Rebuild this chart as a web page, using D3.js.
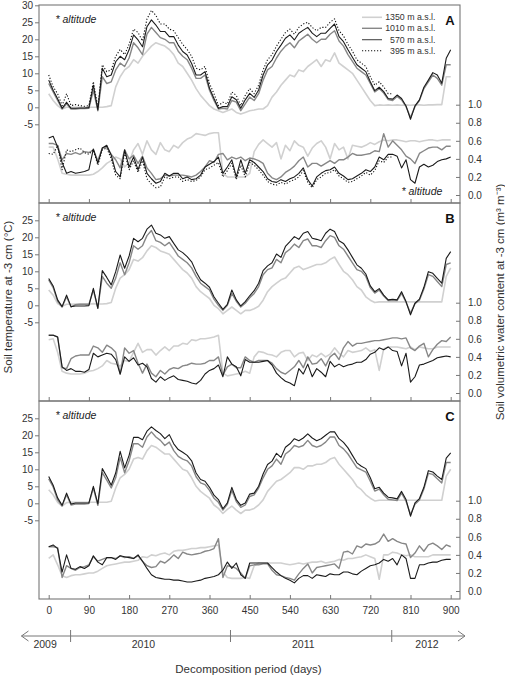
<!DOCTYPE html>
<html><head><meta charset="utf-8">
<script src="https://cdn.jsdelivr.net/npm/d3@7"></script>
<style>body{margin:0;background:#fff}svg{display:block}text{font-family:Arial,"Liberation Sans",sans-serif}</style>
</head><body><svg id="c" width="505" height="681"></svg>
<script>
// ---- DATA ----
const days = d3.range(0, 901, 10);            // sampling grid (decomposition day)
const altitudes = ["1350 m a.s.l.", "1010 m a.s.l.", "570 m a.s.l.", "395 m a.s.l."];
const xTicks = [0, 90, 180, 270, 360, 450, 540, 630, 720, 810, 900];
const tempTicksA = [-5, 0, 5, 10, 15, 20, 25, 30];
const tempTicksBC = [-5, 0, 5, 10, 15, 20, 25];
const waterTicks = [0, 0.2, 0.4, 0.6, 0.8, 1.0];
const years = ["2009", "2010", "2011", "2012"];
const yearLabelDays = [-8, 212, 570, 847];
const yearBreakDays = [49, 407, 768];
const timelineEnds = [-61, 932];
const panelLetters = ["A", "B", "C"];

// Panel A – soil temperature (°C)
const tempA1350 = [4,2,0.5,-0.5,0,0,0,0,0,0,
 0,0,0,0.2,0.5,6,9,11,12,14,
 13,15,16.5,18,19,18.5,18,17,15.5,13,
 12,10,8,5.5,3.5,2,0.5,-0.5,-1,-1.5,
 -1,-0.5,-1.5,-2,-1.5,-1,-0.8,-0.5,-0.5,0.5,
 3,4.5,6.5,8,9.5,9,11,10.5,12,13,
 14,12,14,13.5,16,13,12,11,10,8,
 6,4,2,0.5,0.7,0.6,0.7,0.6,0.7,0.6,
 0.7,0.6,0.7,0.7,0.6,0.7,0.7,0.8,0.8,9,
 9];
const tempA1010 = [7,4.5,2,-0.5,1,-0.5,-0.5,-0.4,-0.4,-0.3,
 5,-1,9,7,7.5,11,13,12,14.5,19,
 17.5,15.5,21.5,23.5,22,20.5,20,19,19,16.5,
 15,14,11.5,8.5,8.5,9.5,5,2,-0.5,-0.3,
 -0.5,2,1.5,-1,1,3,2,4,8,11,
 12,14.5,16.5,18,19,17.5,19.5,20.5,21.5,20,
 19,20,20,21.5,22.5,19.5,18,15.5,13.5,11.5,
 10.5,9.5,7,4.5,5.5,4.2,2.3,2,3.2,2.2,
 0.2,-3,0.2,2,5.5,7.5,9.5,8.5,6.5,12.5,
 12.5];
const tempA570 = [8,5,2.5,-0.3,1.5,-0.3,-0.3,-0.2,-0.2,-0.1,
 6.5,-0.8,11.5,9,9.5,13.4,15,14,16.9,21.3,
 19.8,17.8,23.7,25.7,24.2,22.3,22.3,20.8,20.8,18.3,
 16.4,15.4,12.9,9.5,9.5,10.5,5.6,2.6,-0.3,0.2,
 0.2,3.1,2.2,-0.3,2.2,4.1,2.9,5.1,9.5,12.5,
 13.9,16.4,18.3,20.3,21.3,19.8,21.8,22.7,23.5,21.8,
 20.8,21.8,21.8,23.2,24.5,20.8,19.3,16.9,14.7,12.5,
 11.5,10.5,7.5,4.9,5.9,4.6,2.6,2.4,3.6,2.6,
 0.4,-3.5,0.4,2.2,5.9,8,10.2,9.5,7.1,14.4,
 16.9];
const tempA395 = [9.5,6,4,0.5,4,0.5,0.8,0.5,0.3,0.5,
 7.5,0,12.5,10.5,11,15,17,15.5,18.5,23,
 22,19.5,26,28.5,27,24.5,24.5,23,22.5,20.5,
 18.5,17,15,11.5,11,12,7,4,0.5,1.5,
 1,4.5,3.5,0.5,3.5,5.5,4,6.5,11,14,
 15.5,18,20,22,23,21.5,23.5,24.5,25,23.5,
 22.5,23.5,23.5,25,26,22.5,21,18.5,16.5,14,
 13,12,9,6.5,7.5,6,4,4];

// Panel A – soil volumetric water content (m3 m-3)
const waterA1350 = [0.53,0.53,0.40,0.24,0.23,0.22,0.22,0.22,0.22,0.22,
 0.23,0.26,0.30,0.35,0.38,0.42,0.40,0.31,0.36,0.50,
 0.57,0.45,0.60,0.50,0.45,0.58,0.50,0.48,0.55,0.52,
 0.58,0.62,0.64,0.68,0.67,0.66,0.68,0.69,0.69,0.24,
 0.20,0.20,0.20,0.20,0.20,0.24,0.48,0.56,0.61,0.57,
 0.53,0.58,0.40,0.55,0.49,0.60,0.55,0.53,0.43,0.52,
 0.57,0.60,0.53,0.40,0.57,0.50,0.53,0.40,0.55,0.54,
 0.53,0.55,0.58,0.56,0.59,0.61,0.60,0.61,0.61,0.60,
 0.59,0.60,0.60,0.59,0.60,0.61,0.61,0.60,0.61,0.61,
 0.61];
const waterA1010 = [0.57,0.57,0.55,0.39,0.46,0.45,0.47,0.45,0.48,0.47,
 0.50,0.38,0.52,0.53,0.45,0.39,0.30,0.50,0.40,0.44,
 0.35,0.43,0.30,0.24,0.17,0.18,0.22,0.21,0.22,0.22,
 0.22,0.21,0.20,0.22,0.26,0.31,0.38,0.36,0.45,0.46,
 0.39,0.42,0.40,0.42,0.38,0.41,0.40,0.38,0.35,0.24,
 0.19,0.17,0.20,0.25,0.28,0.32,0.38,0.42,0.31,0.35,
 0.35,0.32,0.35,0.38,0.35,0.39,0.39,0.42,0.46,0.44,
 0.44,0.45,0.46,0.49,0.48,0.68,0.53,0.60,0.55,0.50,
 0.43,0.40,0.35,0.46,0.49,0.52,0.53,0.53,0.50,0.54,
 0.54];
const waterA570 = [0.63,0.65,0.53,0.36,0.24,0.26,0.24,0.25,0.26,0.28,
 0.51,0.35,0.52,0.55,0.44,0.26,0.20,0.50,0.31,0.42,
 0.28,0.42,0.24,0.18,0.13,0.15,0.24,0.21,0.24,0.24,
 0.18,0.20,0.17,0.18,0.22,0.31,0.34,0.37,0.42,0.24,
 0.31,0.39,0.20,0.39,0.24,0.39,0.36,0.31,0.26,0.18,
 0.15,0.14,0.17,0.15,0.18,0.20,0.24,0.30,0.17,0.10,
 0.20,0.24,0.27,0.28,0.31,0.24,0.21,0.17,0.18,0.21,
 0.24,0.28,0.26,0.31,0.42,0.39,0.45,0.45,0.43,0.30,
 0.39,0.17,0.13,0.31,0.34,0.31,0.33,0.37,0.39,0.40,
 0.42];
const waterA395 = [0.46,0.45,0.55,0.28,0.50,0.48,0.50,0.52,0.47,0.45,
 0.50,0.33,0.50,0.52,0.40,0.22,0.18,0.47,0.28,0.38,
 0.25,0.38,0.18,0.12,0.08,0.09,0.20,0.18,0.20,0.20,
 0.15,0.17,0.15,0.16,0.20,0.28,0.30,0.33,0.36,0.20,
 0.27,0.35,0.17,0.33,0.20,0.36,0.33,0.28,0.22,0.15,
 0.12,0.11,0.14,0.12,0.15,0.17,0.20,0.27,0.14,0.08,
 0.17,0.20,0.24,0.25,0.28,0.21,0.18,0.14,0.15,0.18,
 0.21,0.25,0.22,0.27,0.38,0.36,0.42,0.42];

// Panel B – soil temperature
const tempB1350 = [4.5,3,0.5,-0.3,0.3,0.3,0.4,0.4,0.4,0.4,
 0.5,0.4,0.4,0.5,0.8,5,8,9,10.5,13.5,
 13,14,16,17.5,17,16,15.5,15,13.5,12,
 10.5,9.5,8,5.5,4,3,2,0,-1,-2.5,
 -1.5,-0.5,-1.5,-2.5,-1.5,-1.5,-1,-0.3,1.5,4,
 5.5,6.5,7.5,8,9.5,11,11.5,10.5,11,11.5,
 12,12,12.5,13.5,14.2,12,10,9,7.5,5.5,
 4.5,2.5,1.5,0.8,1,1,1,1,1,1,
 1,1,1,1,1,1,1,1,1,8.5,
 11];
const tempB1010 = [7.5,5.2,1.2,-0.5,2.5,-0.5,0.2,0.3,0.3,0.3,
 4.5,-0.8,8.5,6.5,5,8,12.5,9,12.5,17.5,
 16.5,17.5,20.5,22,19,18.5,17.5,18.5,16.5,14.5,
 13.5,12.5,11,8.5,6.5,5.5,4.5,1.8,0,-1.5,
 0,3.5,1.2,-0.5,0.6,2.2,3.5,5.5,9,10.5,
 11,13.5,12.5,15.5,16.5,18,17,19,19.5,17.5,
 17.5,17,19,20.5,20,17.5,16.5,14.5,12.5,10.5,
 10,8.5,5.2,3.6,4.5,2.7,1.4,1.5,1.4,3.5,
 0.9,-2.3,0.5,1.5,4.8,9,8.5,7,5.5,12,
 12.5];
const tempB570 = [7.9,5.7,1.6,-0.4,3,-0.4,-0.2,-0.2,-0.2,-0.1,
 5,-0.9,10.2,8.2,6,9.9,14.8,10.9,14.5,19.7,
 18.7,19.7,22.4,23.6,21.2,20.7,19.7,20.2,18.2,16.3,
 15.5,14.3,12.8,9.9,7.5,6.5,5.3,2.5,0.6,-1.2,
 0.3,4.5,1.6,-0.2,1.1,2.8,4.3,6.5,10.2,11.6,
 12.5,15.1,14.1,17.3,18.7,20.2,19.4,21.2,21.7,19.7,
 19.4,19,21.2,22.4,21.7,19,18.2,16.3,14.1,11.9,
 10.9,9.2,5.7,4,4.9,3,1.6,1.8,1.6,4,
 1.1,-2.8,0.6,1.8,5.3,9.9,9.4,7.9,6.5,13.8,
 15.8];

// Panel B – water content
const waterB1350 = [0.59,0.60,0.45,0.24,0.22,0.21,0.21,0.21,0.22,0.24,
 0.25,0.27,0.30,0.36,0.33,0.32,0.30,0.36,0.35,0.45,
 0.55,0.45,0.48,0.48,0.42,0.47,0.51,0.47,0.52,0.52,
 0.55,0.54,0.59,0.58,0.60,0.60,0.61,0.62,0.64,0.22,
 0.19,0.20,0.21,0.22,0.24,0.22,0.40,0.46,0.45,0.43,
 0.42,0.40,0.45,0.47,0.47,0.40,0.44,0.45,0.36,0.42,
 0.40,0.44,0.40,0.43,0.50,0.44,0.40,0.47,0.45,0.46,
 0.47,0.50,0.46,0.48,0.25,0.49,0.51,0.51,0.51,0.50,
 0.49,0.51,0.48,0.51,0.50,0.49,0.49,0.51,0.51,0.51,
 0.51];
const waterB1010 = [0.64,0.64,0.62,0.28,0.27,0.38,0.41,0.42,0.42,0.42,
 0.52,0.50,0.45,0.53,0.50,0.45,0.21,0.50,0.44,0.47,
 0.33,0.22,0.32,0.22,0.18,0.25,0.21,0.26,0.28,0.27,
 0.30,0.31,0.33,0.32,0.32,0.33,0.36,0.36,0.40,0.20,
 0.29,0.32,0.28,0.28,0.40,0.36,0.34,0.36,0.36,0.36,
 0.33,0.27,0.23,0.21,0.25,0.29,0.36,0.28,0.40,0.32,
 0.33,0.38,0.30,0.40,0.44,0.37,0.50,0.57,0.52,0.55,
 0.55,0.56,0.57,0.58,0.58,0.59,0.60,0.61,0.61,0.60,
 0.61,0.50,0.47,0.52,0.55,0.40,0.48,0.54,0.58,0.57,
 0.62];
const waterB570 = [0.64,0.64,0.62,0.29,0.25,0.27,0.24,0.24,0.23,0.26,
 0.44,0.40,0.42,0.44,0.43,0.37,0.21,0.40,0.35,0.39,
 0.31,0.33,0.29,0.16,0.12,0.18,0.14,0.17,0.19,0.15,
 0.14,0.13,0.11,0.10,0.14,0.21,0.25,0.27,0.31,0.18,
 0.40,0.32,0.29,0.19,0.37,0.34,0.34,0.34,0.35,0.36,
 0.31,0.22,0.17,0.13,0.11,0.08,0.27,0.21,0.32,0.18,
 0.27,0.23,0.18,0.35,0.29,0.32,0.29,0.31,0.32,0.34,
 0.34,0.37,0.43,0.45,0.50,0.48,0.51,0.47,0.46,0.30,
 0.44,0.12,0.18,0.31,0.32,0.34,0.36,0.39,0.40,0.41,
 0.40];

// Panel C – soil temperature
const tempC1350 = [4,2.5,0.3,-0.8,0.2,0.3,0.3,0.3,0.3,0.3,
 0.3,0.3,0.3,0.3,0.6,4.5,7.5,8.5,10,13,
 13.5,13,15.5,17,16.5,15.5,14.5,14.5,13,11.5,
 10,9.5,7.5,5,3.5,2.5,1.5,-0.5,-1.5,-3,
 -1.8,-0.8,-2,-3,-2,-2,-1.5,-0.5,1,3.5,
 5,6.5,7,8,9,10.5,10.5,10,11,11,
 11.5,11.5,12,13,13.5,11.5,10,8.5,7,5,
 4,2.5,1.5,0.7,0.9,0.9,0.9,0.9,0.9,0.9,
 0.9,0.9,0.9,0.9,0.9,0.9,0.9,0.9,0.9,8,
 10];
const tempC1010 = [7.2,4.8,1,-0.8,2.5,-0.5,-0.2,-0.2,-0.2,-0.1,
 4.5,-0.6,9,6.8,4.5,7.5,13.5,9,12.5,17.5,
 17.5,16.5,19.5,21,19.5,18.5,17,18,15.5,13.8,
 13,12.5,11,7.8,6,5.5,3.8,1.5,0.3,-2,
 -0.3,3.8,0.5,-1.2,-0.5,2,2.5,4.5,7.5,10,
 11,13,11.5,14.5,15.5,17,16.5,17,18.5,17,
 16.5,17,18,19.5,19.5,17,16,14.5,12.5,10.5,
 9.8,9.2,6.5,3.6,4.2,2.5,1.2,1,0.8,3,
 0.6,-3.3,-0.3,1,4.2,8.8,8.5,7.2,6,12,
 12];
const tempC570 = [7.9,5.3,1.6,-0.6,3,-0.2,0.1,0.1,0.1,0.1,
 5,-0.2,10.2,7.9,5.3,8.9,15.3,10.4,14.1,19.4,
 19.4,18.7,21.2,22.5,21.4,20.5,19,20.2,17.5,15.8,
 15,14.1,12.5,8.9,7,6.5,4.7,2.4,1.1,-1.6,
 0.1,4.7,1.1,-0.6,0.1,2.7,3,5,8.6,11.4,
 12.4,14.7,13.5,16.5,17.5,19,18.4,19.2,20.4,19.2,
 18.4,19,20,21,21,19,17.9,16.3,14.1,11.9,
 10.9,10.2,7.5,4.3,4.7,3,1.8,1.6,1.3,3.5,
 1.1,-3.8,0.1,1.4,4.7,9.6,9.2,8,7,13.3,
 14.8];

// Panel C – water content
const waterC1350 = [0.36,0.40,0.29,0.17,0.15,0.17,0.18,0.18,0.19,0.20,
 0.20,0.22,0.25,0.28,0.29,0.30,0.31,0.32,0.32,0.33,
 0.34,0.38,0.37,0.40,0.39,0.41,0.42,0.40,0.44,0.45,
 0.45,0.46,0.47,0.47,0.48,0.48,0.49,0.50,0.51,0.21,
 0.15,0.14,0.14,0.14,0.15,0.14,0.28,0.31,0.31,0.31,
 0.31,0.31,0.31,0.30,0.29,0.30,0.31,0.30,0.31,0.32,
 0.32,0.33,0.31,0.32,0.33,0.35,0.34,0.36,0.36,0.37,
 0.38,0.40,0.38,0.36,0.13,0.40,0.40,0.43,0.42,0.40,
 0.39,0.40,0.38,0.38,0.38,0.38,0.40,0.40,0.40,0.40,
 0.40];
const waterC1010 = [0.49,0.49,0.48,0.15,0.28,0.25,0.23,0.26,0.27,0.29,
 0.38,0.33,0.35,0.37,0.37,0.36,0.39,0.37,0.38,0.36,
 0.39,0.33,0.28,0.26,0.27,0.33,0.31,0.35,0.40,0.36,
 0.43,0.41,0.40,0.41,0.42,0.44,0.45,0.47,0.58,0.15,
 0.28,0.27,0.25,0.20,0.14,0.28,0.29,0.29,0.30,0.30,
 0.23,0.18,0.17,0.15,0.14,0.12,0.19,0.25,0.30,0.20,
 0.26,0.27,0.28,0.29,0.30,0.25,0.43,0.44,0.41,0.50,
 0.48,0.52,0.51,0.52,0.55,0.63,0.55,0.58,0.55,0.53,
 0.52,0.37,0.42,0.50,0.44,0.51,0.53,0.50,0.46,0.51,
 0.49];
const waterC570 = [0.49,0.51,0.47,0.21,0.40,0.25,0.24,0.27,0.25,0.28,
 0.39,0.32,0.29,0.37,0.37,0.35,0.39,0.38,0.37,0.36,
 0.40,0.33,0.25,0.18,0.15,0.14,0.13,0.13,0.12,0.12,
 0.11,0.10,0.10,0.11,0.12,0.14,0.15,0.16,0.18,0.23,
 0.32,0.25,0.31,0.18,0.14,0.31,0.31,0.31,0.31,0.31,
 0.26,0.21,0.17,0.14,0.12,0.09,0.14,0.17,0.17,0.14,
 0.18,0.17,0.16,0.19,0.18,0.18,0.21,0.21,0.19,0.18,
 0.22,0.25,0.28,0.29,0.31,0.35,0.33,0.36,0.29,0.40,
 0.36,0.14,0.14,0.29,0.29,0.31,0.32,0.32,0.34,0.35,
 0.35];

// ---- LAYOUT / STYLE ----
const panels = [
  {letter: panelLetters[0], top: 5,   tTicks: tempTicksA,  temp: [tempA1350, tempA1010, tempA570, tempA395], water: [waterA1350, waterA1010, waterA570, waterA395]},
  {letter: panelLetters[1], top: 203, tTicks: tempTicksBC, temp: [tempB1350, tempB1010, tempB570], water: [waterB1350, waterB1010, waterB570]},
  {letter: panelLetters[2], top: 401, tTicks: tempTicksBC, temp: [tempC1350, tempC1010, tempC570], water: [waterC1350, waterC1010, waterC570]}
];
const styles = [
  {c: "#d0d0d0", w: 1.6},
  {c: "#878787", w: 1.4},
  {c: "#1b1b1b", w: 1.1},
  {c: "#111111", w: 1.1, dash: "1.2,1.8"}
];
const L = 39, R = 460, PH = 198;
const svg = d3.select("#c");
const x = d3.scaleLinear().domain([0, 900]).range([48.7, 450.7]);
const axisCol = "#777", txtCol = "#333";
const hyphenInt = d => String(d);   // keep ASCII hyphen for negatives, as in the original

function styleAxis(g) {
  g.select(".domain").remove();
  g.selectAll(".tick line").attr("stroke", axisCol).attr("stroke-width", 1);
  g.selectAll(".tick text").attr("fill", txtCol).attr("font-size", "10px")
    .attr("font-family", "Arial, 'Liberation Sans', sans-serif");
}

panels.forEach((p, pi) => {
  const top = p.top;
  const yT = d3.scaleLinear().domain([-5, 30]).range([top + 119.3, top + 0.3]);
  const yW = d3.scaleLinear().domain([0, 1]).range([top + 190, top + 99.7]);
  const g = svg.append("g");
  const n = p.temp.length;
  for (let k = 0; k < n; k++) {
    [[p.water[k], yW], [p.temp[k], yT]].forEach(([arr, ys]) => {
      const line = d3.line().x((d, i) => x(days[i])).y(d => ys(d));
      g.append("path").attr("d", line(arr)).attr("fill", "none")
        .attr("stroke", styles[k].c).attr("stroke-width", styles[k].w)
        .attr("stroke-linejoin", "round")
        .attr("stroke-dasharray", styles[k].dash || null);
    });
  }
  // frame
  g.append("rect").attr("x", L).attr("y", top).attr("width", R - L).attr("height", PH)
    .attr("fill", "none").attr("stroke", axisCol).attr("stroke-width", 1.1);
  // left axis
  g.append("g").attr("transform", `translate(${L},0)`)
    .call(d3.axisLeft(yT).tickValues(p.tTicks).tickSize(4).tickPadding(2).tickFormat(hyphenInt))
    .call(styleAxis);
  // right axis (ticks inward)
  g.append("g").attr("transform", `translate(${R},0)`)
    .call(d3.axisRight(yW).tickValues(waterTicks).tickSize(-4).tickPadding(8).tickFormat(d3.format(".1f")))
    .call(styleAxis);
  // bottom ticks (inward)
  g.append("g").attr("transform", `translate(0,${top + PH})`)
    .call(d3.axisBottom(x).tickValues(xTicks).tickSize(-4).tickPadding(8)
      .tickFormat(pi === 2 ? hyphenInt : () => ""))
    .call(styleAxis);
  // panel letter
  g.append("text").attr("x", 450).attr("y", top + 20).attr("text-anchor", "middle")
    .attr("font-size", "13px").attr("font-weight", "bold").attr("fill", "#111").text(p.letter);
  // altitude note
  g.append("text").attr("x", 55.5).attr("y", top + 17.5).attr("font-size", "10.5px")
    .attr("font-style", "italic").attr("fill", "#222").text("* altitude");
});
// second altitude note in panel A (water part)
svg.append("text").attr("x", 401.5).attr("y", 195).attr("font-size", "10.5px")
  .attr("font-style", "italic").attr("fill", "#222").text("* altitude");

// legend (panel A)
const legY = [17.3, 28.3, 39.7, 50.7];
altitudes.forEach((a, i) => {
  svg.append("line").attr("x1", 362).attr("x2", 382).attr("y1", legY[i]).attr("y2", legY[i])
    .attr("stroke", i === 2 ? "#4a4a4a" : styles[i].c).attr("stroke-width", styles[i].w)
    .attr("stroke-dasharray", styles[i].dash || null);
  svg.append("text").attr("x", 435.5).attr("y", legY[i] + 3).attr("text-anchor", "end")
    .attr("font-size", "8.8px").attr("fill", "#333").text(a);
});

// timeline
const tlY = 636;
const tl = svg.append("g").attr("stroke", "#777").attr("stroke-width", 1).attr("fill", "none");
tl.append("line").attr("x1", x(timelineEnds[0])).attr("x2", x(timelineEnds[1])).attr("y1", tlY).attr("y2", tlY);
tl.append("path").attr("d", `M${x(timelineEnds[0]) + 7},${tlY - 5}L${x(timelineEnds[0])},${tlY}L${x(timelineEnds[0]) + 7},${tlY + 5}`);
tl.append("path").attr("d", `M${x(timelineEnds[1]) - 7},${tlY - 5}L${x(timelineEnds[1])},${tlY}L${x(timelineEnds[1]) - 7},${tlY + 5}`);
yearBreakDays.forEach(d => {
  tl.append("line").attr("x1", x(d)).attr("x2", x(d)).attr("y1", tlY - 6).attr("y2", tlY + 6);
});
years.forEach((yr, i) => {
  svg.append("text").attr("x", x(yearLabelDays[i])).attr("y", tlY + 12).attr("text-anchor", "middle")
    .attr("font-size", "10.5px").attr("fill", txtCol).text(yr);
});

// axis titles
svg.append("text").attr("x", 248.5).attr("y", 673).attr("text-anchor", "middle")
  .attr("font-size", "11.5px").attr("fill", txtCol).text("Decomposition period (days)");
svg.append("text").attr("transform", "translate(12,297) rotate(-90)").attr("text-anchor", "middle")
  .attr("font-size", "11.5px").attr("fill", txtCol).text("Soil temperature at -3 cm (°C)");
svg.append("text").attr("transform", "translate(504,302) rotate(-90)").attr("text-anchor", "middle")
  .attr("font-size", "11.5px").attr("fill", txtCol).text("Soil volumetric water content at -3 cm (m³ m⁻³)");
</script></body></html>
